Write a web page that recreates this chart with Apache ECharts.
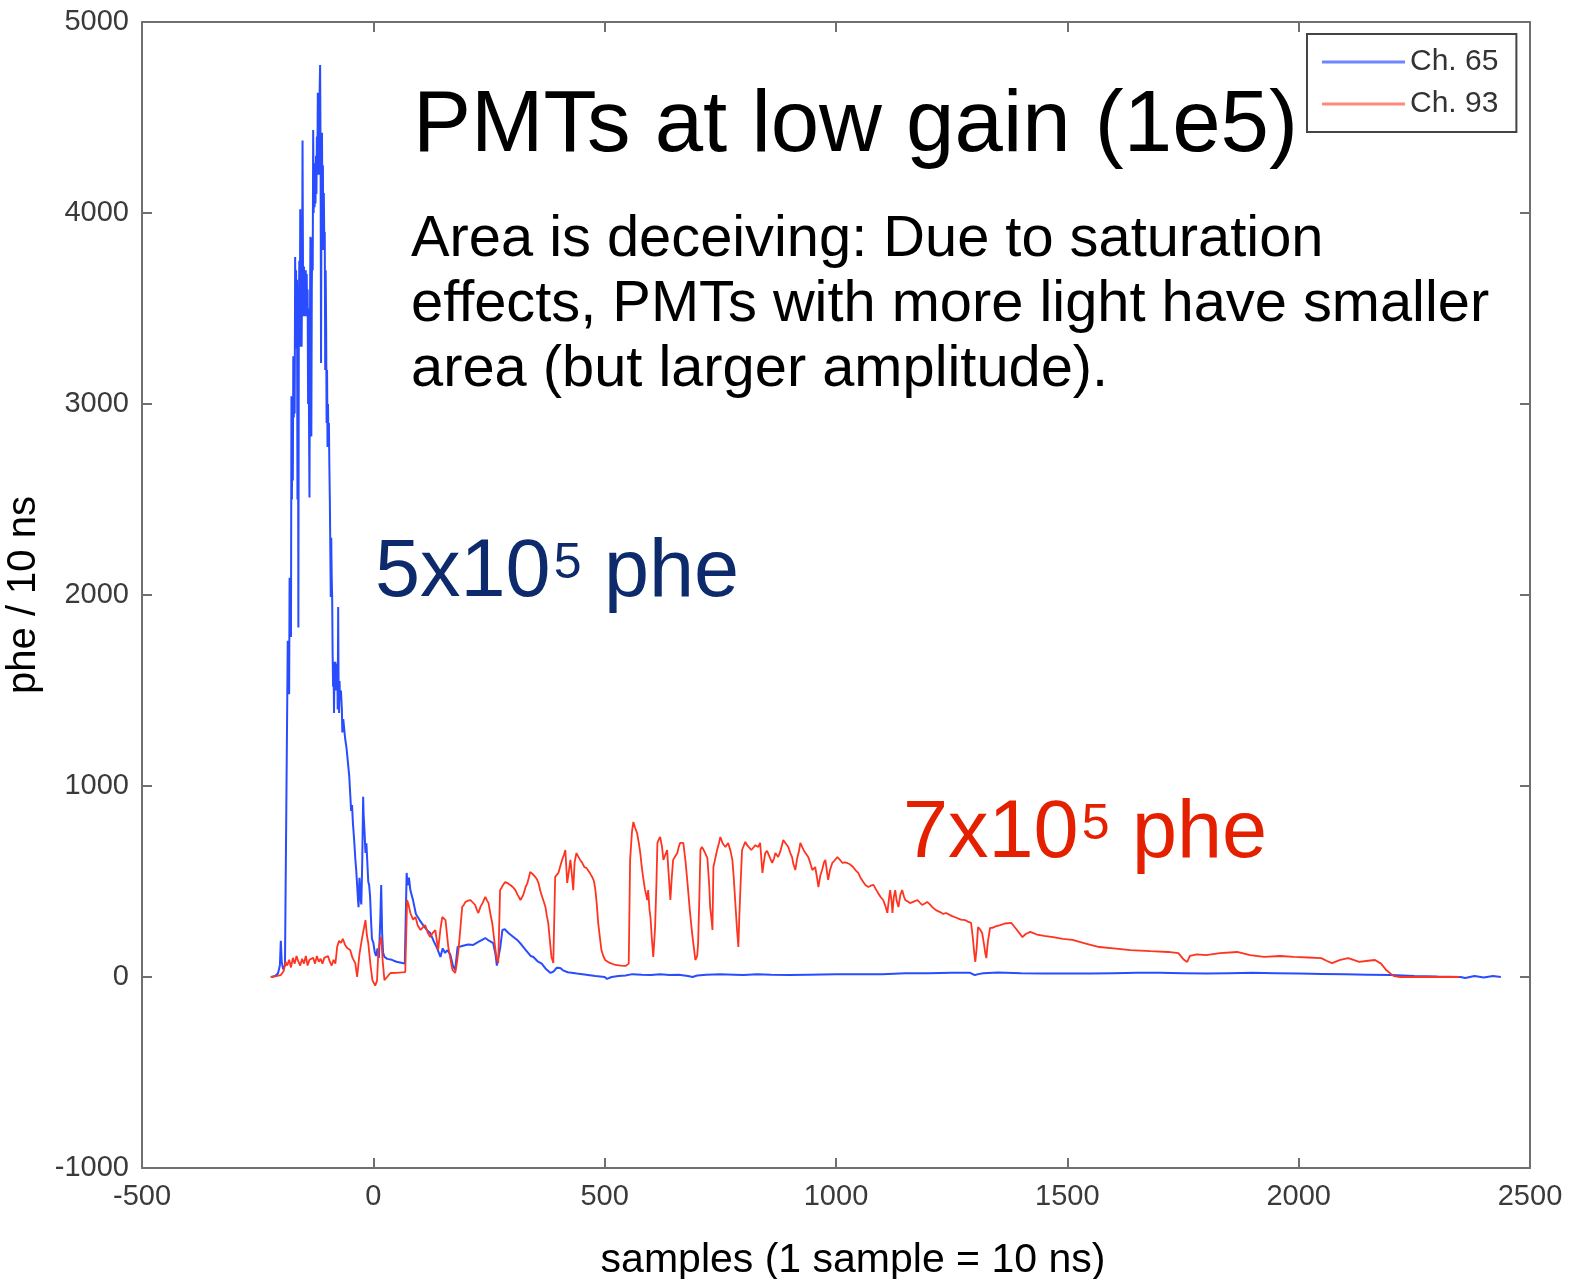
<!DOCTYPE html>
<html>
<head>
<meta charset="utf-8">
<title>PMTs at low gain (1e5)</title>
<script src="https://cdn.jsdelivr.net/npm/echarts@6/dist/echarts.min.js"></script>
<style>
  html, body { margin: 0; padding: 0; background: #fff; }
  #chart { width: 1570px; height: 1279px; }
</style>
</head>
<body>
<div id="chart"></div>
<script>
// Ch. 65 waveform: sample index and phe per 10 ns
const ch65Samples = [-220,-212,-206,-202,-200,-198,-195,-191,-188,-186,-185,-184,-183,-182,-181,-180,-179,-178,-177,-176,-175,-174,-173,-172,-171,-170,-169,-168,-167,-166,-165,-164,-163,-162,-161,-160,-159,-158,-157,-156,-155,-154,-153,-152,-151,-150,-149,-148,-147,-146,-145,-144,-143,-142,-141,-140,-139,-138,-137,-136,-135,-134,-133,-132,-131,-130,-129,-128,-127,-126,-125,-124,-123,-122,-121,-120,-119,-118,-117,-116,-115,-114,-113,-112,-111,-110,-109,-108,-107,-106,-105,-104,-103,-102,-101,-100,-99,-98,-97,-96,-95,-94,-93,-92,-91,-90,-89,-88,-87,-86,-85,-84,-83,-82,-81,-80,-79,-78,-77,-76,-75,-74,-73,-72,-70,-68,-67,-65,-63,-61,-58,-56,-54,-52,-50,-48,-46,-44,-43,-41,-39,-37,-35,-33,-32,-30,-28,-26,-24,-22,-21,-19,-17,-15,-13,-11,-9,-7,-5,-3,0,3,6,9,12,15,17,19,21,24,30,40,50,60,68,72,74,77,80,86,92,100,108,116,123,130,138,145,150,155,160,166,172,177,182,188,196,205,216,228,242,250,259,264,267,270,274,279,284,292,300,311,320,330,340,346,356,364,372,383,390,396,404,410,420,440,460,480,500,505,515,530,545,560,580,600,620,640,660,680,690,700,720,750,780,800,830,860,900,940,1000,1050,1100,1150,1200,1250,1290,1300,1303,1308,1312,1318,1350,1400,1450,1500,1550,1600,1650,1700,1750,1800,1850,1900,1950,2000,2050,2100,2150,2200,2250,2300,2350,2360,2380,2400,2420,2437];
const ch65Values  = [0,5,20,60,190,80,40,60,50,1470,1760,1500,1700,1480,2090,1800,2050,1780,3040,2500,2900,2600,3250,2930,3150,2950,3770,3300,3700,3290,3650,2500,3400,1830,3500,3750,3300,4020,3600,3750,3300,3650,4380,3700,3460,3720,3500,3650,3460,3700,3500,3680,3460,3600,3000,3500,2900,2510,3400,3875,3300,2830,3600,3870,3700,4435,4000,4260,4030,4200,4050,4300,4100,4400,4200,4630,4300,4500,4200,4650,4775,4300,3215,4200,4420,4000,4250,3806,4105,3850,3900,3178,3700,3400,2900,3178,2775,3000,2800,2900,2670,2500,2497,1990,2300,2100,1990,1700,1520,1650,1382,1600,1540,1650,1500,1600,1520,1640,1400,1937,1500,1382,1550,1450,1500,1400,1280,1350,1300,1250,1200,1150,1100,1050,960,870,900,800,770,700,620,560,480,400,366,520,420,380,600,943,850,760,650,700,600,500,480,420,300,200,180,130,110,150,100,300,482,230,130,105,95,90,80,75,70,545,480,520,455,400,330,298,270,245,230,190,150,105,150,126,140,120,60,37,157,160,165,170,168,185,204,190,178,120,60,52,150,246,250,230,215,194,170,140,110,105,80,70,45,21,30,48,47,35,25,18,12,5,0,-10,0,5,8,15,12,10,14,10,12,5,0,8,12,14,12,10,14,12,10,12,14,15,14,20,20,22,22,10,0,15,5,20,24,20,18,18,18,20,22,22,20,18,20,22,20,18,16,14,12,10,5,2,0,-5,5,-3,5,0];

// Ch. 93 waveform: sample index and phe per 10 ns
const ch93Samples = [-222,-210,-200,-194,-190,-186,-182,-178,-174,-170,-166,-162,-158,-154,-150,-146,-142,-138,-134,-130,-126,-122,-118,-114,-110,-106,-102,-98,-94,-90,-86,-82,-78,-74,-70,-66,-61,-56,-50,-45,-39,-35,-30,-24,-20,-17,-14,-11,-6,-2,4,8,11,14,17,20,24,28,37,50,60,69,73,76,80,86,91,96,102,107,112,118,123,128,134,140,145,149,153,156,162,167,171,177,181,184,188,192,196,199,205,210,215,220,224,227,232,236,242,246,249,253,257,262,266,270,274,280,285,291,296,302,307,312,318,324,329,333,336,339,344,350,354,357,361,365,369,372,375,378,382,385,389,393,397,400,404,408,412,415,419,423,426,429,432,435,439,443,447,451,456,461,465,469,473,477,480,483,486,490,493,497,501,510,523,535,545,552,555,559,562,566,570,574,577,580,583,587,592,594,597,599,602,605,607,609,612,614,617,620,624,627,631,635,638,642,645,648,652,657,660,663,667,670,675,679,684,689,693,696,700,702,705,707,710,713,717,722,726,728,731,733,735,739,743,747,750,755,761,765,767,772,776,779,782,786,789,791,794,797,801,804,808,812,817,821,826,832,836,841,844,847,851,854,858,862,866,869,872,875,880,886,891,897,901,905,908,912,916,920,923,927,931,934,937,940,944,949,952,955,959,962,966,970,974,977,980,983,987,992,997,1003,1008,1014,1019,1024,1030,1037,1042,1048,1053,1059,1064,1070,1075,1081,1086,1091,1096,1102,1107,1111,1114,1117,1120,1122,1125,1128,1131,1135,1139,1143,1147,1150,1155,1160,1168,1176,1181,1186,1192,1197,1203,1208,1216,1225,1232,1238,1250,1260,1270,1279,1285,1292,1296,1299,1301,1304,1307,1311,1316,1320,1323,1325,1328,1333,1338,1345,1355,1365,1379,1390,1403,1410,1420,1428,1437,1450,1469,1490,1511,1540,1569,1600,1636,1680,1718,1740,1752,1759,1765,1780,1800,1830,1867,1895,1925,1960,1990,2020,2049,2060,2072,2090,2107,2120,2131,2150,2165,2178,2189,2200,2206,2220,2280,2347];
const ch93Values  = [0,5,10,30,80,60,90,50,100,70,110,80,60,95,70,110,60,90,80,100,70,110,80,95,70,100,90,110,80,60,90,70,160,190,178,200,168,150,141,100,73,0,120,209,260,298,220,178,60,-16,-45,-20,141,180,209,90,-16,-5,21,22,24,26,403,380,335,300,314,270,246,260,272,230,209,230,246,141,250,314,310,298,157,90,37,21,80,141,250,366,380,393,400,403,390,377,350,335,370,387,419,400,387,330,283,180,105,73,455,480,497,490,482,470,455,430,403,429,470,492,520,550,540,524,510,492,450,419,390,366,320,283,180,105,73,524,530,545,580,613,640,665,492,560,613,540,455,600,649,630,613,600,576,570,560,540,524,500,455,380,283,200,141,110,89,75,63,60,58,70,613,760,812,780,754,700,649,580,524,460,403,455,350,314,200,105,180,262,500,702,720,733,680,613,640,665,550,403,520,613,630,649,680,702,702,702,600,492,350,230,150,89,110,178,450,665,681,670,650,623,480,366,300,246,576,620,665,700,733,700,681,690,702,660,613,520,403,250,157,314,500,665,690,707,690,681,665,670,690,681,702,545,600,649,660,665,620,597,620,649,640,628,660,717,700,681,650,628,590,560,620,660,702,680,660,649,640,628,600,560,570,576,520,471,530,560,600,613,560,508,560,597,610,628,615,597,600,597,590,576,560,545,520,497,480,471,478,482,460,440,420,403,370,335,400,455,400,335,420,455,400,366,430,455,420,403,395,387,395,403,390,377,385,393,380,366,350,340,330,335,320,310,300,298,290,283,200,120,79,150,262,250,230,170,120,99,180,257,257,265,272,280,283,250,209,225,236,228,220,215,209,200,194,175,157,150,141,135,131,125,90,79,110,118,115,125,131,115,105,110,105,102,99,85,73,90,99,88,79,85,89,70,37,15,5,0,0,0];

// Axis ranges and tick spacing
const xRange = [-500, 2500];
const xStep = 500;
const yRange = [-1000, 5000];
const yStep = 1000;

const seriesNames = ['Ch. 65', 'Ch. 93'];
const headline = 'PMTs at low gain (1e5)';
const noteLines = [
  'Area is deceiving: Due to saturation',
  'effects, PMTs with more light have smaller',
  'area (but larger amplitude).'
];

const zip = (xs, ys) => xs.map((x, i) => [x, ys[i]]);

const FONT = '"Liberation Sans", Arial, Helvetica, sans-serif';
const AXIS_GREY = '#707070';
const TICK_TEXT = '#3a3a3a';
const BLUE = '#2a4cff';
const RED = '#ff3420';

const frameAxis = (extra) => Object.assign({
  type: 'value',
  axisLine: { show: true, onZero: false, lineStyle: { color: AXIS_GREY, width: 2 } },
  axisTick: { show: true, inside: true, length: 10, lineStyle: { color: AXIS_GREY, width: 2 } },
  splitLine: { show: false }
}, extra);

const plainNumber = (v) => String(v);

const chart = echarts.init(document.getElementById('chart'), null, { renderer: 'canvas' });

chart.setOption({
  backgroundColor: '#ffffff',
  animation: false,
  grid: { left: 142, right: 40, top: 22, bottom: 111, containLabel: false, outerBoundsMode: 'none' },
  legend: {
    orient: 'vertical',
    left: 1307,
    top: 34,
    padding: [13, 18, 13, 15],
    itemWidth: 83,
    itemHeight: 3,
    itemGap: 12,
    icon: 'rect',
    borderColor: '#444',
    borderWidth: 2,
    backgroundColor: '#fff',
    textStyle: { fontFamily: FONT, fontSize: 30, color: '#333', lineHeight: 30 },
    data: [
      { name: seriesNames[0], itemStyle: { color: '#6f86ff' } },
      { name: seriesNames[1], itemStyle: { color: '#ff8a7c' } }
    ]
  },
  xAxis: [
    frameAxis({
      position: 'bottom',
      min: xRange[0], max: xRange[1], interval: xStep,
      axisLabel: { fontFamily: FONT, fontSize: 29, color: TICK_TEXT, margin: 14, formatter: plainNumber },
      name: 'samples (1 sample = 10 ns)',
      nameLocation: 'middle',
      nameGap: 72,
      nameTextStyle: { fontFamily: FONT, fontSize: 41, color: '#000', padding: [0, 0, 0, 34] }
    }),
    frameAxis({
      position: 'top',
      min: xRange[0], max: xRange[1], interval: xStep,
      axisLabel: { show: false }
    })
  ],
  yAxis: [
    frameAxis({
      position: 'left',
      min: yRange[0], max: yRange[1], interval: yStep,
      axisLabel: { fontFamily: FONT, fontSize: 29, color: TICK_TEXT, margin: 13, formatter: plainNumber },
      name: 'phe / 10 ns',
      nameLocation: 'middle',
      nameRotate: 90,
      nameGap: 78,
      nameTextStyle: { fontFamily: FONT, fontSize: 40, color: '#000' }
    }),
    frameAxis({
      position: 'right',
      min: yRange[0], max: yRange[1], interval: yStep,
      axisLabel: { show: false }
    })
  ],
  series: [
    {
      name: seriesNames[0],
      type: 'line',
      xAxisIndex: 0, yAxisIndex: 0,
      symbol: 'none',
      showSymbol: false,
      data: zip(ch65Samples, ch65Values),
      color: BLUE,
      lineStyle: { width: 2, color: BLUE }
    },
    {
      name: seriesNames[1],
      type: 'line',
      xAxisIndex: 0, yAxisIndex: 0,
      symbol: 'none',
      showSymbol: false,
      data: zip(ch93Samples, ch93Values),
      color: RED,
      lineStyle: { width: 1.8, color: RED }
    }
  ],
  graphic: [
    {
      type: 'text', x: 413, y: 127, z: 100,
      style: { text: headline, font: '87px ' + FONT, fill: '#000', verticalAlign: 'middle' }
    },
    ...noteLines.map((line, i) => ({
      type: 'text', x: 411, y: 240 + i * 65, z: 100,
      style: { text: line, font: '57.8px ' + FONT, fill: '#000', verticalAlign: 'middle' }
    })),
    {
      type: 'text', x: 375, y: 574, z: 100,
      style: {
        text: '{b|5x10}{s|5}{b| phe}',
        verticalAlign: 'middle',
        rich: {
          b: { fontFamily: FONT, fontSize: 81, fill: '#0c2a6c', lineHeight: 90, verticalAlign: 'middle' },
          s: { fontFamily: FONT, fontSize: 50, fill: '#0c2a6c', lineHeight: 90, verticalAlign: 'top', padding: [10, 0, 0, 3] }
        }
      }
    },
    {
      type: 'text', x: 903, y: 835, z: 100,
      style: {
        text: '{b|7x10}{s|5}{b| phe}',
        verticalAlign: 'middle',
        rich: {
          b: { fontFamily: FONT, fontSize: 81, fill: '#e42000', lineHeight: 90, verticalAlign: 'middle' },
          s: { fontFamily: FONT, fontSize: 50, fill: '#e42000', lineHeight: 90, verticalAlign: 'top', padding: [10, 0, 0, 3] }
        }
      }
    }
  ]
});
</script>
</body>
</html>
